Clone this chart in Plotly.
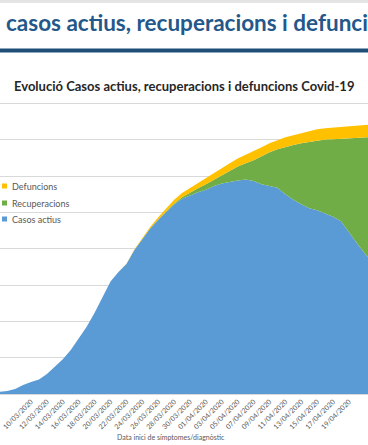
import plotly.graph_objects as go
import pandas as pd

# Data, daily from 01/03/2020 to 23/04/2020
dates = pd.date_range("2020-03-01", "2020-04-23", freq="D")

casos_actius = [50, 50, 100, 150, 200, 300, 400, 700, 1250, 1650,
                2000, 2750, 3750, 4800, 6050, 7600, 9250, 11200, 13400, 15500,
                16800, 17900, 19850, 21300, 22800, 24000, 25100, 26100, 26900, 27400,
                27800, 28150, 28650, 29000, 29250, 29400, 29550, 29350, 28900, 28700,
                28400, 27500, 26750, 26150, 25600, 25300, 24900, 24400, 23800, 22250,
                20750, 19350, 18000, 16750]

recuperacions = [0] * 24 + [50, 50, 100, 150, 200, 350, 550, 750, 850, 1100,
                            1500, 1950, 2250, 2850, 3850, 4600, 5300, 6550, 7550, 8400,
                            9150, 9650, 10150, 10700, 11350, 12950, 14500, 16000, 17400, 18700]

defuncions = [0] * 21 + [50, 50, 100, 200, 300, 400, 500, 600, 650, 700,
                         800, 900, 1000, 1050, 1100, 1150, 1200, 1250, 1250, 1300,
                         1300, 1350, 1400, 1450, 1500, 1550, 1600, 1650, 1700, 1750,
                         1750, 1800, 1800]

series_names = ["Casos actius", "Recuperacions", "Defuncions"]
series_colors = ["#5B9BD5", "#70AD47", "#FFC000"]

W, H = 368, 445
TOP, BOTTOM = 100, 394  # plot area pixel rows


def py(p):
    return (H - p) / H


def px(p):
    return p / W


fig = go.Figure()
for name, vals, col in zip(series_names, [casos_actius, recuperacions, defuncions], series_colors):
    fig.add_trace(go.Scatter(
        x=dates, y=vals, name=name, mode="lines", stackgroup="one",
        line=dict(width=0, color=col), fillcolor=col, showlegend=False,
    ))

FONT = "Lato"
annotations = []
shapes = []

# slide decorations
shapes.append(dict(type="rect", xref="paper", yref="paper", x0=0, x1=1, y0=py(3), y1=py(0),
                   fillcolor="#E4E4E4", line=dict(width=0), layer="above"))
shapes.append(dict(type="rect", xref="paper", yref="paper", x0=0, x1=1, y0=py(52.5), y1=py(48.5),
                   fillcolor="#1F4E79", line=dict(width=0), layer="above"))

# slide title
annotations.append(dict(text="<b>casos actius, recuperacions i defuncions</b>", x=px(4), y=py(23),
                        xref="paper", yref="paper", xanchor="left", yanchor="middle",
                        showarrow=False, font=dict(family=FONT, size=22.5, color="#24578A")))
# chart title
annotations.append(dict(text="<b>Evolució Casos actius, recuperacions i defuncions Covid-19</b>",
                        x=px(184), y=py(86), xref="paper", yref="paper",
                        xanchor="center", yanchor="middle", showarrow=False,
                        font=dict(family=FONT, size=13, color="#262626")))
# axis title
annotations.append(dict(text="Data inici de símptomes/diagnòstic", x=px(171), y=py(437),
                        xref="paper", yref="paper", xanchor="center", yanchor="middle",
                        showarrow=False, font=dict(family=FONT, size=7, color="#595959")))

# legend (manual, to match position)
leg_rows = [("Defuncions", "#FFC000", 186), ("Recuperacions", "#70AD47", 203), ("Casos actius", "#5B9BD5", 219)]
for txt, col, yy in leg_rows:
    shapes.append(dict(type="rect", xref="paper", yref="paper", x0=px(2), x1=px(7),
                       y0=py(yy + 2.5), y1=py(yy - 2.5), fillcolor=col, line=dict(width=0)))
    annotations.append(dict(text=txt, x=px(9.5), y=py(yy), xref="paper", yref="paper",
                            xanchor="left", yanchor="middle", showarrow=False,
                            font=dict(family=FONT, size=9, color="#595959")))

fig.update_layout(
    width=W, height=H,
    margin=dict(l=0, r=0, t=0, b=0, autoexpand=False),
    paper_bgcolor="white", plot_bgcolor="white",
    annotations=annotations, shapes=shapes,
    showlegend=False,
    xaxis=dict(type="date", range=["2020-03-06 02:24", "2020-04-21 09:20"],
               tick0="2020-03-10", dtick=2 * 86400000, tickformat="%d/%m/%Y",
               tickangle=-45, tickfont=dict(family=FONT, size=7, color="#595959"),
               showgrid=False, showline=True, linecolor="#D9D9D9", ticks="", ticklen=0,
               automargin=False),
    yaxis=dict(domain=[py(BOTTOM), py(TOP)], range=[0, 294 / 36.3 * 5000], dtick=5000,
               showticklabels=False, showgrid=True, gridcolor="#D9D9D9", gridwidth=1,
               zeroline=False, automargin=False),
)

fig.write_html("out.html", config={"displayModeBar": False},
               post_script="document.body.style.margin='0';")
